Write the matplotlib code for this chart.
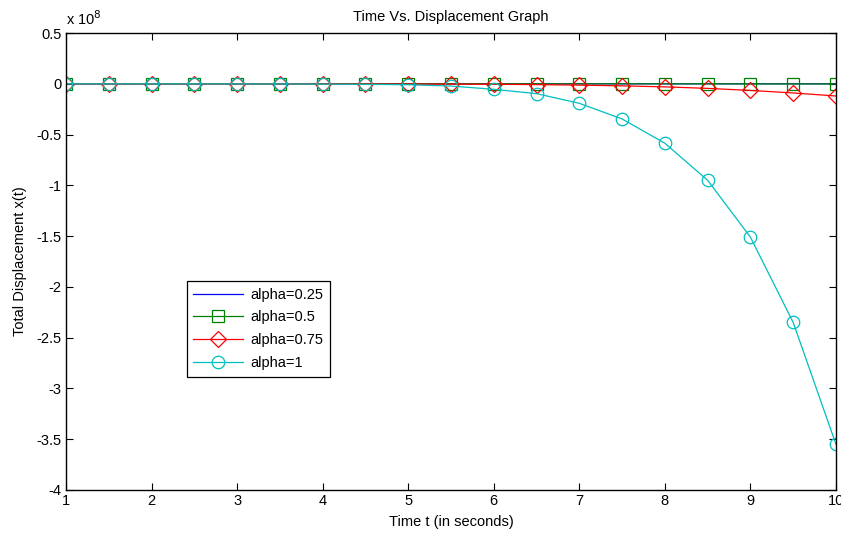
import matplotlib
matplotlib.use("Agg")
import matplotlib.pyplot as plt
from matplotlib.ticker import FuncFormatter, MultipleLocator

plt.rcParams['font.family'] = ['Liberation Sans', 'DejaVu Sans']

t = [1, 1.5, 2, 2.5, 3, 3.5, 4, 4.5, 5, 5.5, 6, 6.5, 7, 7.5, 8, 8.5, 9, 9.5, 10]
x_a025 = [0, 0, 0, 0, 0, 0, 0, 0, 0, 0, 0, 0, 0, 0, 0, 0, 0, 0, -1e4]
x_a05 = [0, 0, 0, 0, 0, 0, 0, 0, 0, 0, 0, 0, 0, 0, -1e4, -2e4, -4e4, -7e4, -1.2e5]
x_a075 = [0, 0, 0, -1e4, -2e4, -4e4, -7e4, -1.2e5, -2e5, -3e5, -4e5, -8e5,
          -1.3e6, -2.0e6, -3.0e6, -4.5e6, -6.5e6, -9.0e6, -1.2e7]
x_a1 = [0, 0, -1e4, -3e4, -6e4, -1.2e5, -2.5e5, -5e5, -9e5, -2.2e6,
        -5.4e6, -9.7e6, -1.92e7, -3.46e7, -5.85e7, -9.5e7, -1.51e8, -2.35e8, -3.55e8]

fig = plt.figure(figsize=(8.41, 5.33), dpi=100)
ax = fig.add_axes([0.0785, 0.0807, 0.9155, 0.8573])

lw = 0.9
ax.plot(t, x_a025, color='#0000ff', lw=lw, label='alpha=0.25')
ax.plot(t, x_a05, color='#008000', lw=lw, marker='s', ms=9, mfc='none', mec='#008000',
        mew=0.9, label='alpha=0.5')
ax.plot(t, x_a075, color='#ff0000', lw=lw, marker='D', ms=8, mfc='none', mec='#ff0000',
        mew=0.9, label='alpha=0.75')
ax.plot(t, x_a1, color='#00bfbf', lw=lw, marker='o', ms=9, mfc='none', mec='#00bfbf',
        mew=0.9, label='alpha=1')

ax.set_xlim(1, 10)
ax.set_ylim(-4e8, 0.5e8)
ax.xaxis.set_major_locator(MultipleLocator(1))
ax.yaxis.set_major_locator(MultipleLocator(0.5e8))
ax.yaxis.set_major_formatter(FuncFormatter(lambda v, p: f'{v/1e8:g}'))
ax.tick_params(direction='in', top=True, right=True, length=5, width=0.8,
               labelsize=10.5, pad=3)
for s in ax.spines.values():
    s.set_linewidth(1.0)

ax.text(0.0, 1.012, r'x 10$^{8}$', transform=ax.transAxes, fontsize=10.5,
        ha='left', va='bottom')
ax.set_title('Time Vs. Displacement Graph', fontsize=10.5, pad=9)
ax.set_xlabel('Time t (in seconds)', fontsize=10.5, labelpad=5)
ax.set_ylabel('Total Displacement x(t)', fontsize=10.5, labelpad=7)

leg = ax.legend(loc='upper left', bbox_to_anchor=(0.157, 0.457), fontsize=10.5,
                fancybox=False, framealpha=1, edgecolor='black', handlelength=3.4,
                labelspacing=0.6, borderpad=0.45, handletextpad=0.5, borderaxespad=0)
leg.get_frame().set_linewidth(0.9)

fig.savefig('out.png', dpi=100)
